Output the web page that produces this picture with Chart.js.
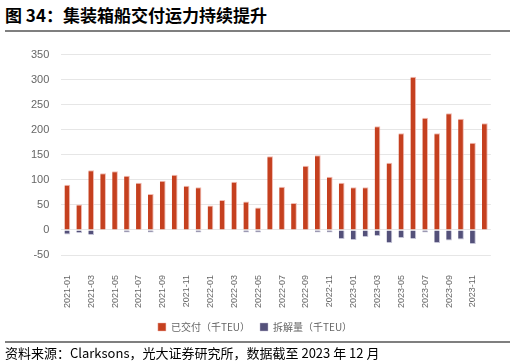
<!DOCTYPE html>
<html>
<head>
<meta charset="utf-8">
<script src="https://cdn.jsdelivr.net/npm/chart.js@4"></script>
<style>
  body { margin: 0; background: #fff; }
  #wrap { position: relative; width: 516px; height: 363px; font-family: "Noto Sans CJK SC", "Noto Sans", sans-serif; }
  #title { position: absolute; left: 5px; top: 2px; font-size: 17px; font-weight: bold; color: #000; white-space: nowrap; }
  .rule { position: absolute; left: 5px; width: 505px; height: 2px; background: #7f7f7f; }
  #src { position: absolute; left: 5px; top: 343px; font-size: 13px; color: #000; white-space: nowrap; }
  #box { position: absolute; left: 0; top: 36px; width: 516px; height: 306px; }
  #c { display: block; }
</style>
</head>
<body>
<div id="wrap">
  <div id="title">图 34：集装箱船交付运力持续提升</div>
  <div class="rule" style="top:30px"></div>
  <div id="box"><canvas id="c" width="516" height="306"></canvas></div>
  <div class="rule" style="top:341px"></div>
  <div id="src">资料来源：Clarksons，光大证券研究所，数据截至 2023 年 12 月</div>
</div>
<script>
// months 2021-01 .. 2023-12
const months = [
  '2021-01','2021-02','2021-03','2021-04','2021-05','2021-06','2021-07','2021-08','2021-09','2021-10','2021-11','2021-12',
  '2022-01','2022-02','2022-03','2022-04','2022-05','2022-06','2022-07','2022-08','2022-09','2022-10','2022-11','2022-12',
  '2023-01','2023-02','2023-03','2023-04','2023-05','2023-06','2023-07','2023-08','2023-09','2023-10','2023-11','2023-12'
];
// 已交付 (千TEU)
const delivered = [
  90, 51, 119, 113, 117, 108, 94, 72, 98, 110, 88, 85,
  49, 60, 96, 57, 45, 147, 86, 54, 128, 149, 106, 94,
  85, 85, 207, 134, 193, 306, 224, 193, 233, 222, 174, 213
];
// 拆解量 (千TEU), shown below zero
const demolished = [
  -9, -6, -10, -1, -1, -5, -1, -5, -1, -1, -1, -5,
  -1, -1, -1, -5, -5, -1, -1, -1, -1, -5, -5, -18,
  -20, -14, -12, -26, -16, -18, -5, -26, -21, -19, -28, -1
];
const yTicks = [-50, 0, 50, 100, 150, 200, 250, 300, 350];

const grey = '#666666';

new Chart(document.getElementById('c'), {
  type: 'bar',
  data: {
    labels: months,
    datasets: [
      {
        label: '已交付（千TEU）',
        data: delivered,
        backgroundColor: '#c5401f',
        borderColor: 'rgba(240,180,170,0.9)',
        borderWidth: { right: 1, top: 1 },
        borderSkipped: false,
        barPercentage: 0.48,
        categoryPercentage: 1
      },
      {
        label: '拆解量（千TEU）',
        data: demolished,
        backgroundColor: '#54517a',
        borderColor: 'rgba(190,188,210,0.9)',
        borderWidth: { right: 1, bottom: 1 },
        borderSkipped: false,
        barPercentage: 0.48,
        categoryPercentage: 1
      }
    ]
  },
  options: {
    responsive: false,
    animation: false,
    maintainAspectRatio: false,
    layout: { padding: { left: 19, right: 25, top: 16, bottom: 0 } },
    plugins: {
      tooltip: { enabled: false },
      legend: {
        position: 'bottom',
        labels: {
          boxWidth: 8,
          boxHeight: 8,
          padding: 10,
          color: grey,
          font: { size: 10, family: '"Noto Sans CJK SC", sans-serif' }
        }
      }
    },
    scales: {
      x: {
        stacked: true,
        grid: { display: false, drawTicks: false },
        border: { display: false },
        afterFit: (s) => { s.height = 57; },
        ticks: {
          autoSkip: false,
          maxRotation: 90,
          minRotation: 90,
          padding: 20,
          color: grey,
          font: { size: 9, family: 'Liberation Sans, sans-serif' },
          callback: (v, i) => (i % 2 === 0 ? months[i] : '')
        }
      },
      y: {
        stacked: true,
        min: -50,
        max: 350,
        afterBuildTicks: (axis) => { axis.ticks = yTicks.map(v => ({ value: v })); },
        grid: { color: '#e6e6e6', lineWidth: 1, drawTicks: false },
        border: { display: false },
        ticks: {
          padding: 12,
          color: grey,
          font: { size: 11, family: 'Liberation Sans, sans-serif' }
        }
      }
    }
  }
});
</script>
</body>
</html>
